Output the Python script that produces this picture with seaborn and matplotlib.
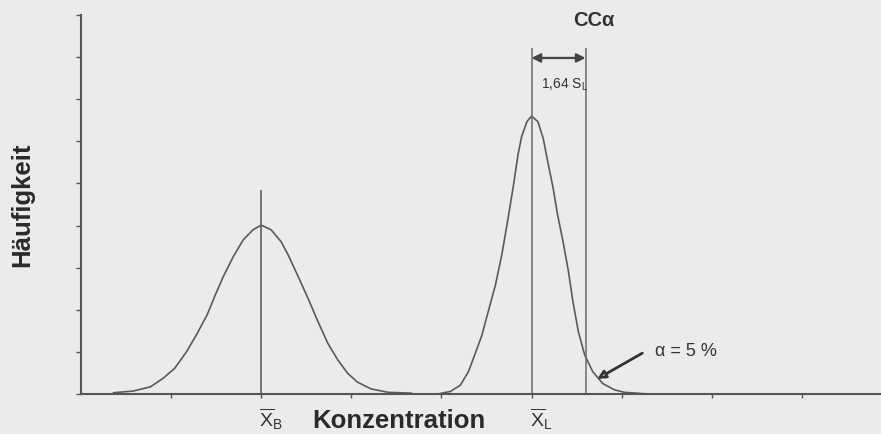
import pandas as pd
import matplotlib
matplotlib.use("Agg")
import matplotlib.pyplot as plt
import seaborn as sns

# Curve points (x and y in tick units)
blank_x = [0.36, 0.58, 0.77, 0.91, 1.04, 1.17, 1.28, 1.40, 1.49, 1.58, 1.69, 1.80,
           1.91, 2.00, 2.11, 2.22, 2.30, 2.41, 2.52, 2.63, 2.74, 2.85, 2.96, 3.07,
           3.22, 3.41, 3.67]
blank_y = [0.03, 0.07, 0.17, 0.37, 0.61, 1.00, 1.40, 1.88, 2.35, 2.79, 3.26, 3.66,
           3.90, 4.01, 3.90, 3.62, 3.30, 2.79, 2.27, 1.72, 1.20, 0.81, 0.49, 0.28,
           0.12, 0.04, 0.02]

limit_x = [3.98, 4.10, 4.21, 4.30, 4.37, 4.45, 4.52, 4.60, 4.67, 4.74, 4.80, 4.85,
           4.89, 4.95, 5.00, 5.07, 5.13, 5.18, 5.24, 5.29, 5.35, 5.41, 5.46, 5.52,
           5.59, 5.68, 5.79, 5.92, 6.03, 6.30]
limit_y = [0.01, 0.06, 0.21, 0.53, 0.93, 1.40, 1.96, 2.59, 3.30, 4.17, 4.96, 5.68,
           6.11, 6.47, 6.60, 6.47, 6.07, 5.52, 4.89, 4.25, 3.62, 2.91, 2.19, 1.48,
           0.93, 0.53, 0.25, 0.10, 0.04, 0.00]

# Reference lines: mean blank, mean at limit, decision limit CCalpha
x_blank = 2.0
x_limit = 5.0
x_cca = 5.6
blank_line_top = 4.85
limit_line_top = 8.22

x_ticks = [1, 2, 3, 4, 5, 6, 7, 8]
y_ticks = [0, 1, 2, 3, 4, 5, 6, 7, 8, 9]

df_b = pd.DataFrame({"x": blank_x, "y": blank_y})
df_l = pd.DataFrame({"x": limit_x, "y": limit_y})

sns.set_style("ticks")
plt.rcParams["font.family"] = ["Liberation Sans", "DejaVu Sans"]
plt.rcParams["mathtext.fontset"] = "custom"
plt.rcParams["mathtext.sf"] = "Liberation Sans"
plt.rcParams["mathtext.rm"] = "Liberation Sans"

bg = "#ebebeb"
ink = "#555555"

fig = plt.figure(figsize=(8.81, 4.34), dpi=100, facecolor=bg)
ax = fig.add_axes([81 / 881, 40 / 434, 800 / 881, 379 / 434])
ax.set_facecolor(bg)

sns.lineplot(data=df_b, x="x", y="y", ax=ax, color="#5a5a5a", lw=1.2, estimator=None)
sns.lineplot(data=df_l, x="x", y="y", ax=ax, color="#5a5a5a", lw=1.2, estimator=None)

ax.vlines(x_blank, 0, blank_line_top, color="#5f5f5f", lw=1.2)
ax.vlines([x_limit, x_cca], 0, limit_line_top, color="#6a6a6a", lw=1.1)

ax.annotate("", xy=(x_limit, 7.98), xytext=(x_cca, 7.98),
            arrowprops=dict(arrowstyle="<|-|>", color="#444444", lw=1.6,
                            mutation_scale=13, shrinkA=0, shrinkB=0))
ax.text(5.37, 7.34, "1,64 S$_\\mathregular{L}$", fontsize=10, ha="center", va="center",
        color="#333333")
ax.text(5.69, 8.86, "CCα", fontsize=14.5, fontweight="bold", ha="center", va="center",
        color="#333333")

# alpha = 5 % with arrow pointing at the tail beyond CCalpha
ax.annotate("", xy=(5.73, 0.36), xytext=(6.23, 0.97),
            arrowprops=dict(arrowstyle="-|>", ec="#333333", fc="#d0d0d0", lw=2.0,
                            mutation_scale=12, shrinkA=0, shrinkB=0))
ax.text(6.37, 1.02, "α = 5 %", fontsize=13, ha="left", va="center", color="#333333")

ax.set_xlim(0, 800 / 90.1)
ax.set_ylim(0, 9)
ax.set_xticks(x_ticks)
ax.set_yticks(y_ticks)
ax.set_xticklabels([])
ax.set_yticklabels([])
ax.tick_params(axis="y", direction="out", length=3.5, width=1, color=ink)
ax.tick_params(axis="x", direction="out", length=3, width=1, color=ink)
for s in ["top", "right"]:
    ax.spines[s].set_visible(False)
for s in ["left", "bottom"]:
    ax.spines[s].set_color(ink)
    ax.spines[s].set_linewidth(1.5)

ax.set_xlabel("")
ax.set_ylabel("Häufigkeit", fontsize=18.5, fontweight="bold", color="#2a2a2a", va="center")
ax.yaxis.set_label_coords(-0.074, 0.5)
ax.text(0.397, -0.071, "Konzentration", transform=ax.transAxes, fontsize=18.5,
        fontweight="bold", color="#2a2a2a", ha="center", va="center")

ax.text(x_blank + 0.11, -0.6, r"$\overline{\mathsf{X}}_{\mathsf{B}}$", fontsize=14,
        ha="center", va="center", color="#333333")
ax.text(x_limit + 0.11, -0.6, r"$\overline{\mathsf{X}}_{\mathsf{L}}$", fontsize=14,
        ha="center", va="center", color="#333333")

fig.savefig("out.png", dpi=100, facecolor=bg)
